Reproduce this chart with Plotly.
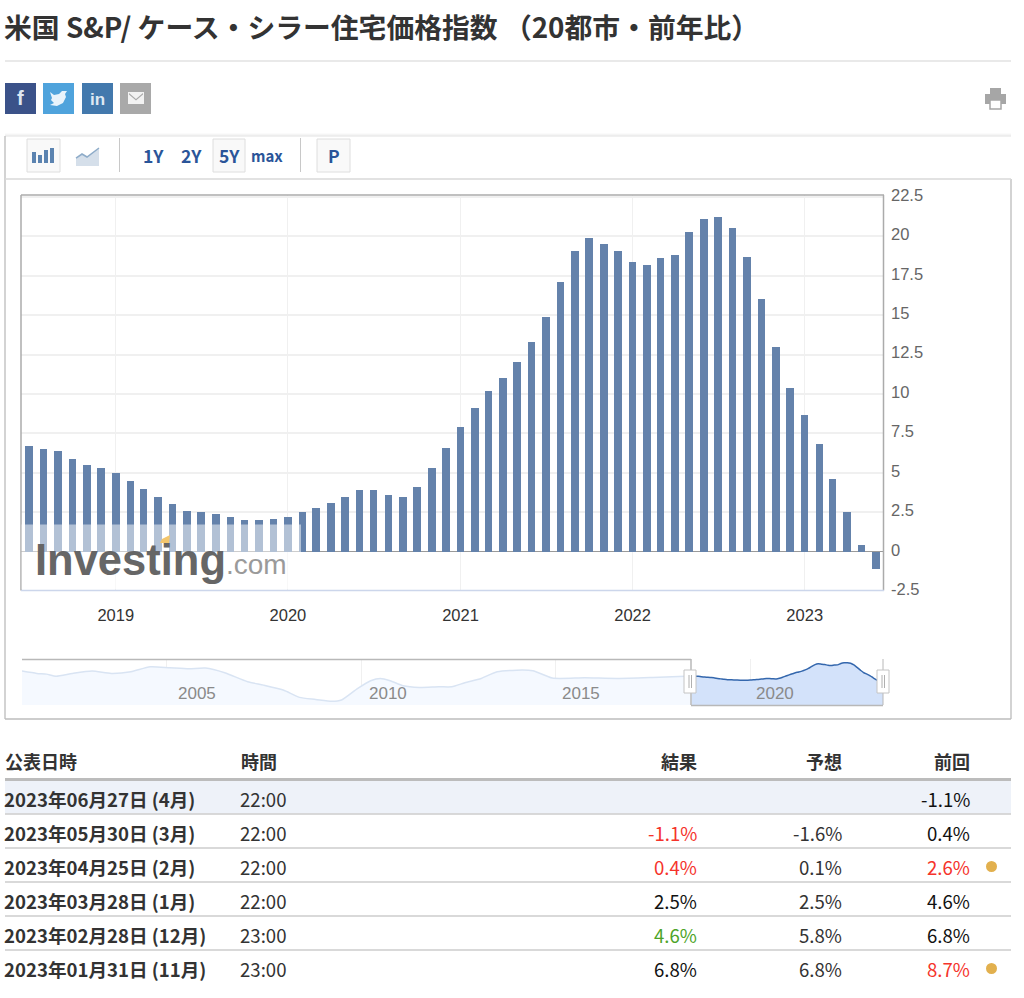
from __future__ import annotations

import plotly.graph_objects as go

PAGE_W = 1024
PAGE_H = 998

TITLE = "米国 S&P/ ケース・シラー住宅価格指数 （20都市・前年比）"

MONTHS = [
    "2018-07-01", "2018-08-01", "2018-09-01", "2018-10-01", "2018-11-01", "2018-12-01",
    "2019-01-01", "2019-02-01", "2019-03-01", "2019-04-01", "2019-05-01", "2019-06-01",
    "2019-07-01", "2019-08-01", "2019-09-01", "2019-10-01", "2019-11-01", "2019-12-01",
    "2020-01-01", "2020-02-01", "2020-03-01", "2020-04-01", "2020-05-01", "2020-06-01",
    "2020-07-01", "2020-08-01", "2020-09-01", "2020-10-01", "2020-11-01", "2020-12-01",
    "2021-01-01", "2021-02-01", "2021-03-01", "2021-04-01", "2021-05-01", "2021-06-01",
    "2021-07-01", "2021-08-01", "2021-09-01", "2021-10-01", "2021-11-01", "2021-12-01",
    "2022-01-01", "2022-02-01", "2022-03-01", "2022-04-01", "2022-05-01", "2022-06-01",
    "2022-07-01", "2022-08-01", "2022-09-01", "2022-10-01", "2022-11-01", "2022-12-01",
    "2023-01-01", "2023-02-01", "2023-03-01", "2023-04-01", "2023-05-01", "2023-06-01",
]
YOY = [
    6.7, 6.5, 6.4, 5.9, 5.5, 5.3,
    5.0, 4.5, 4.0, 3.5, 3.0, 2.6,
    2.5, 2.4, 2.2, 2.0, 2.0, 2.1,
    2.2, 2.5, 2.8, 3.1, 3.45, 3.9,
    3.9, 3.6, 3.45, 4.1, 5.3, 6.6,
    7.9, 9.1, 10.2, 11.0, 12.0, 13.3,
    14.9, 17.1, 19.1, 19.9, 19.5, 19.1,
    18.4, 18.2, 18.6, 18.8, 20.3, 21.1,
    21.2, 20.5, 18.7, 16.0, 13.0, 10.4,
    8.7, 6.8, 4.6, 2.5, 0.4, -1.1,
]

YEAR_TICKS = ["2019-01-01", "2020-01-01", "2021-01-01", "2022-01-01", "2023-01-01"]
YEAR_LABELS = ["2019", "2020", "2021", "2022", "2023"]
Y_TICKS = [-2.5, 0, 2.5, 5, 7.5, 10, 12.5, 15, 17.5, 20, 22.5]
Y_LABELS = ["-2.5", "0", "2.5", "5", "7.5", "10", "12.5", "15", "17.5", "20", "22.5"]

# long history shown in the navigator strip
NAV_DATES = [
    "2001-04-15", "2001-09", "2001-12", "2002-03", "2002-08", "2003-02", "2003-08", "2004-02",
    "2004-08", "2005-02", "2005-08", "2006-01", "2006-07", "2007-02", "2007-07", "2008-01",
    "2008-06", "2008-11", "2009-04", "2009-07", "2009-12", "2010-04", "2010-07", "2010-10",
    "2011-02", "2011-07", "2012-01", "2012-05", "2012-09", "2013-02", "2013-07", "2014-01",
    "2014-06", "2014-12", "2015-10", "2016-08", "2017-07", "2018-07-01",
]
NAV_VALUES = [
    12.0, 9.5, 8.7, 6.5, 9.5, 12.0, 9.5, 11.3,
    16.7, 15.6, 14.5, 15.3, 10.2, 0.4, -3.3, -8.7,
    -16.7, -18.9, -21.0, -19.6, -6.9, 1.5, 4.0, 1.5,
    -4.0, -5.8, -5.1, -5.1, -0.7, 4.0, 11.3, 13.0,
    12.4, 4.4, 4.7, 4.0, 5.1, 6.7,
]
NAV_YEARS = ["2005", "2010", "2015", "2020"]
NAV_FLOOR = -25

HEADERS = ["公表日時", "時間", "結果", "予想", "前回"]
RELEASES = [
    "2023年06月27日 (4月)", "2023年05月30日 (3月)", "2023年04月25日 (2月)",
    "2023年03月28日 (1月)", "2023年02月28日 (12月)", "2023年01月31日 (11月)",
]
TIMES = ["22:00", "22:00", "22:00", "22:00", "23:00", "23:00"]
ACTUAL = ["", "-1.1%", "0.4%", "2.5%", "4.6%", "6.8%"]
ACTUAL_COLORS = ["#000000", "#f5332b", "#f5332b", "#111111", "#4da428", "#111111"]
FORECAST = ["", "-1.6%", "0.1%", "2.5%", "5.8%", "6.8%"]
PREVIOUS = ["-1.1%", "0.4%", "2.6%", "4.6%", "6.8%", "8.7%"]
PREVIOUS_COLORS = ["#111111", "#111111", "#f5332b", "#111111", "#111111", "#f5332b"]
REVISED = [False, False, True, False, False, True]

JP_FONT = "Noto Sans CJK JP"
LATIN_FONT = "Liberation Sans"


def px(x: float) -> float:
    return x / PAGE_W


def py(y: float) -> float:
    return 1 - y / PAGE_H


def rect(x0, y0, x1, y1, fill="rgba(0,0,0,0)", line=None, width=1, layer="above", opacity=1.0):
    return dict(
        type="rect", xref="paper", yref="paper",
        x0=px(x0), x1=px(x1), y0=py(y0), y1=py(y1),
        fillcolor=fill, opacity=opacity, layer=layer,
        line=dict(color=line or "rgba(0,0,0,0)", width=width if line else 0),
    )


def hline(x0, x1, y, color, width=1, layer="above"):
    return dict(type="line", xref="paper", yref="paper", x0=px(x0), x1=px(x1), y0=py(y), y1=py(y),
                layer=layer, line=dict(color=color, width=width))


def vline(x, y0, y1, color, width=1, layer="above"):
    return dict(type="line", xref="paper", yref="paper", x0=px(x), x1=px(x), y0=py(y0), y1=py(y1),
                layer=layer, line=dict(color=color, width=width))


def poly(points, fill, line=None, width=1):
    d = "M" + " L".join(f"{px(x):.5f},{py(y):.5f}" for x, y in points) + " Z"
    return dict(type="path", xref="paper", yref="paper", path=d, fillcolor=fill, layer="above",
                line=dict(color=line or "rgba(0,0,0,0)", width=width if line else 0))


def label(text, x, y, size, color="#333333", anchor="left", family=JP_FONT, bold=False):
    return dict(
        text=f"<b>{text}</b>" if bold else text,
        xref="paper", yref="paper", x=px(x), y=py(y),
        xanchor=anchor, yanchor="middle", showarrow=False, borderpad=0, borderwidth=0,
        font=dict(family=family, size=size, color=color),
    )


def build_page_furniture() -> tuple[list, list]:
    shapes = [hline(5, 1011, 61, "#e2e2e2", 1.5)]
    notes = [label(TITLE, 4, 26, 27.8, "#333333", bold=True)]

    # share buttons
    for x0, color in [(5, "#3b5289"), (43, "#4fa3dc"), (82, "#4379ad"), (120, "#a9a9a9")]:
        shapes.append(rect(x0, 83, x0 + 31, 114, fill=color))
    notes.append(label("f", 20.5, 98, 20, "#dfe6f2", "center", LATIN_FONT, True))
    notes.append(label("in", 97, 99, 17, "#dfe9f3", "center", LATIN_FONT, True))
    shapes.append(poly([(50, 92), (54, 95), (59, 94), (62, 91), (67, 91), (65, 94), (66, 97), (63, 103),
                        (57, 106), (50, 105), (54, 103), (51, 100), (52, 98)], "#e8f3fb"))
    shapes.append(rect(128, 92, 144, 104, fill="#f2f2f2"))
    shapes.append(poly([(129, 93), (136, 99), (143, 93), (143, 94.5), (136, 100.5), (129, 94.5)], "#a9a9a9"))

    # print icon
    shapes.append(rect(990, 88, 1001, 94, fill="#a6a6a6"))
    shapes.append(rect(985, 94, 1006, 104, fill="#a6a6a6"))
    shapes.append(rect(990, 100, 1001, 109, fill="#ffffff", line="#a6a6a6", width=1.5))

    # chart container
    for y, color in [(134, "#f7f7f7"), (135, "#efefef"), (136, "#e2e2e2")]:
        shapes.append(hline(5, 1011, y, color))
    shapes.append(vline(5, 136, 719, "#c4c4c4", 1.5))
    shapes.append(vline(1011, 179, 719, "#c4c4c4", 1.5))
    shapes.append(hline(5, 1011, 179, "#d8d8d8", 1.5))
    shapes.append(hline(5, 1011, 719, "#bdbdbd", 1.5))

    # toolbar
    for x0, x1 in [(27, 60), (213, 245), (317, 350)]:
        shapes.append(rect(x0, 139, x1, 172, fill="#f9f9f9", line="#dedede"))
    shapes.append(vline(119.5, 138, 172, "#c8c8c8"))
    shapes.append(vline(300.5, 138, 172, "#c8c8c8"))
    for x0, top in [(32, 152), (38, 155), (44, 150), (50, 148)]:
        shapes.append(rect(x0, top, x0 + 4, 163, fill="#5b83b0"))
    shapes.append(poly([(76, 158), (82, 154), (87, 157), (99, 148), (99, 166), (76, 166)], "#d5dfea"))
    shapes.append(dict(type="path", xref="paper", yref="paper", layer="above",
                       path="M" + " L".join(f"{px(x):.5f},{py(y):.5f}" for x, y in
                                            [(76, 158), (82, 154), (87, 157), (99, 148)]),
                       line=dict(color="#8eacc9", width=1.5)))
    for text, x, size in [("1Y", 153, 17.5), ("2Y", 191, 17.5), ("5Y", 229, 17.5), ("max", 267, 15), ("P", 334, 17.5)]:
        notes.append(label(text, x, 156, size, "#2a5599", "center", bold=True))
    return shapes, notes


def build_watermark() -> tuple[list, list]:
    shapes = [
        rect(21.5, 524.5, 301, 589, fill="#ffffff", opacity=0.5),
        poly([(160, 543), (162, 539), (170, 535), (169, 543)], "#f4c66c"),
    ]
    notes = [
        label("Investing", 35, 560, 43.5, "#666666", family=LATIN_FONT, bold=True),
        label(".com", 226, 564, 28, "#9a9a9a", family=LATIN_FONT),
    ]
    return shapes, notes


def build_navigator_furniture() -> tuple[list, list]:
    shapes = [
        hline(22, 691, 659.5, "#b8b8b8", 1.5),
        vline(691, 659, 705, "#b8b8b8", 1.5),
        hline(691, 883, 705.5, "#b8b8b8", 1.5),
        vline(883, 659, 705, "#b8b8b8", 1),
    ]
    for x0 in [684, 877]:
        shapes.append(rect(x0, 670, x0 + 12, 693, fill="#ffffff", line="#c4c4c4"))
        shapes.append(vline(x0 + 5, 675, 688, "#b0b0b0"))
        shapes.append(vline(x0 + 7.5, 675, 688, "#b0b0b0"))
    notes = [
        label(text, x, 693, 17, "#8a8a8a", "center", LATIN_FONT)
        for text, x in zip(NAV_YEARS, [197, 388, 581, 775])
    ]
    return shapes, notes


def build_table() -> tuple[list, list]:
    size = 18.6
    head = 18
    shapes = [
        rect(5, 781, 1011, 813.5, fill="#eef2f9", layer="below"),
        hline(5, 1011, 779.5, "#bcbcbc", 3),
    ]
    for y in [814, 848, 882, 916, 950]:
        shapes.append(hline(5, 1011, y, "#cccccc", 1.5))

    notes = [
        label(HEADERS[0], 5, 761, head, "#333333", bold=True),
        label(HEADERS[1], 241, 761, head, "#333333", bold=True),
        label(HEADERS[2], 697, 761, head, "#333333", "right", bold=True),
        label(HEADERS[3], 842, 761, head, "#333333", "right", bold=True),
        label(HEADERS[4], 970, 761, head, "#333333", "right", bold=True),
    ]
    for i, release in enumerate(RELEASES):
        y = 798.5 + i * 34
        notes.append(label(release, 4, y, size, "#333333", bold=True))
        notes.append(label(TIMES[i], 240, y, size, "#333333"))
        if ACTUAL[i]:
            notes.append(label(ACTUAL[i], 697, y, size, ACTUAL_COLORS[i], "right"))
        if FORECAST[i]:
            notes.append(label(FORECAST[i], 842, y, size, "#333333", "right"))
        notes.append(label(PREVIOUS[i], 970, y, size, PREVIOUS_COLORS[i], "right"))
        if REVISED[i]:
            shapes.append(dict(type="circle", xref="paper", yref="paper", layer="above",
                               x0=px(986), x1=px(997), y0=py(y + 5.5), y1=py(y - 5.5),
                               fillcolor="#e2b04e", line=dict(width=0)))
    return shapes, notes


def build_figure() -> go.Figure:
    fig = go.Figure()
    fig.add_trace(go.Bar(
        x=MONTHS, y=YOY, width=16 * 86400000,
        marker=dict(color="#6482ab", line=dict(width=0)),
        xaxis="x", yaxis="y", showlegend=False,
    ))

    # navigator: unselected history then selected window, both filled to the strip floor
    nav_parts = [
        (NAV_DATES, NAV_VALUES, "#d9e4f3", "#f5f9ff", 1.5),
        (MONTHS, YOY, "#3467ad", "#d3e2fa", 1.5),
    ]
    for dates, values, line_color, fill_color, line_width in nav_parts:
        fig.add_trace(go.Scatter(
            x=dates, y=[NAV_FLOOR] * len(dates), mode="lines", line=dict(width=0),
            xaxis="x2", yaxis="y2", showlegend=False, hoverinfo="skip",
        ))
        fig.add_trace(go.Scatter(
            x=dates, y=values, mode="lines", fill="tonexty", fillcolor=fill_color,
            line=dict(color=line_color, width=line_width, shape="spline", smoothing=0.6),
            xaxis="x2", yaxis="y2", showlegend=False,
        ))

    shapes: list = [
        # plot frame
        vline(21, 195, 590.5, "#ababab", 1.5),
        hline(21, 884, 195, "#ababab", 1.5),
        vline(883.5, 195, 590.5, "#ababab", 1.5),
        hline(21, 884, 590.5, "#ccd6eb", 1.5),
    ]
    notes: list = []
    for builder in (build_page_furniture, build_watermark, build_navigator_furniture, build_table):
        new_shapes, new_notes = builder()
        shapes += new_shapes
        notes += new_notes

    fig.update_layout(
        width=PAGE_W, height=PAGE_H,
        margin=dict(l=0, r=0, t=0, b=0),
        paper_bgcolor="#ffffff", plot_bgcolor="#ffffff",
        bargap=0, showlegend=False,
        shapes=shapes, annotations=notes,
        xaxis=dict(
            domain=[px(21), px(883)], range=["2018-06-14", "2023-06-16"], type="date",
            tickvals=YEAR_TICKS, ticktext=YEAR_LABELS, ticks="", ticklabelstandoff=12,
            tickfont=dict(family=LATIN_FONT, size=16.5, color="#333333"),
            showgrid=True, gridcolor="#f0f0f0", gridwidth=1, zeroline=False, showline=False,
            anchor="y", automargin=False,
        ),
        yaxis=dict(
            domain=[py(591.3), py(195)], range=[-2.51, 22.62], side="right",
            tickvals=Y_TICKS, ticktext=Y_LABELS, ticks="", ticklabelstandoff=7, ticklabelshift=-2,
            tickfont=dict(family=LATIN_FONT, size=16.5, color="#666666"),
            showgrid=True, gridcolor="#f0f0f0", gridwidth=1.5,
            zeroline=True, zerolinecolor="#9a9a9a", zerolinewidth=1.2, showline=False,
            anchor="x", automargin=False,
        ),
        xaxis2=dict(
            domain=[px(22), px(883)], range=["2001-04-15", "2023-06-01"], type="date",
            dtick="M60", tick0="2000-01-01", showticklabels=False, ticks="",
            showgrid=True, gridcolor="#f0f0f0", zeroline=False, showline=False, anchor="y2",
            automargin=False,
        ),
        yaxis2=dict(
            domain=[py(705), py(659)], range=[NAV_FLOOR, 25.2],
            showticklabels=False, ticks="", showgrid=False, zeroline=False, showline=False,
            anchor="x2", automargin=False,
        ),
    )
    return fig


def main() -> None:
    fig = build_figure()
    fig.write_html(
        "out.html",
        config={"displayModeBar": False},
        post_script="document.body.style.margin='0';document.body.style.overflow='hidden';",
    )


if __name__ == "__main__":
    main()
